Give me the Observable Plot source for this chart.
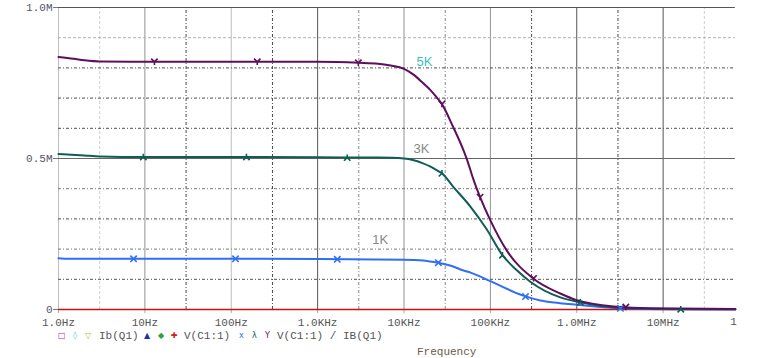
<!DOCTYPE html>
<html><head><meta charset="utf-8">
<script src="https://cdn.jsdelivr.net/npm/d3@7"></script>
<script src="https://cdn.jsdelivr.net/npm/@observablehq/plot@0.6"></script>
<style>
body{margin:0;background:#fff;}
#wrap{position:relative;width:781px;height:358px;font-family:"Liberation Mono",monospace;overflow:hidden;}
#legend{position:absolute;left:0;top:329px;height:14px;width:781px;font-size:11px;color:#555;}
#legend span{position:absolute;top:0;line-height:14px;white-space:pre;}
#legend span.sym{font-family:"DejaVu Sans",sans-serif;font-size:8px;}
#xlabel{position:absolute;left:417px;top:345px;font-size:11px;color:#6a5a48;line-height:14px;}
</style></head>
<body><div id="wrap"><div id="chart"></div><div id="legend"></div><div id="xlabel">Frequency</div></div>
<script>
// ---- data (values in M) ----
const freq5K = [1, 1.5, 2, 3, 10, 100, 1000, 3000, 5000, 7000, 10000, 13000, 16600, 20000, 23000, 27500, 37000, 49000, 54000, 63000, 76000, 100000, 155000, 316000, 645000, 1000000, 3000000, 7000000, 68600000];
const val5K  = [0.836, 0.830, 0.825, 0.821, 0.820, 0.820, 0.820, 0.817, 0.814, 0.808, 0.797, 0.777, 0.750, 0.728, 0.708, 0.680, 0.605, 0.526, 0.494, 0.434, 0.372, 0.295, 0.195, 0.102, 0.053, 0.031, 0.009, 0.004, 0.0015];
const freq3K = [1, 2, 3, 10, 100, 1000, 5000, 10000, 13000, 16600, 20000, 23000, 27500, 37000, 59000, 91000, 138000, 204000, 290000, 645000, 1100000, 2900000, 10000000, 68600000];
const val3K  = [0.515, 0.510, 0.507, 0.505, 0.505, 0.504, 0.503, 0.500, 0.494, 0.484, 0.474, 0.464, 0.451, 0.407, 0.340, 0.265, 0.180, 0.129, 0.092, 0.040, 0.024, 0.006, 0.002, 0.001];
const freq1K = [1, 1.3, 10, 100, 1000, 10000, 13000, 16600, 20000, 25000, 35000, 49000, 59000, 100000, 240000, 380000, 645000, 1000000, 3000000, 10000000, 68600000];
const val1K  = [0.170, 0.168, 0.168, 0.168, 0.167, 0.165, 0.164, 0.162, 0.159, 0.155, 0.145, 0.129, 0.122, 0.094, 0.046, 0.030, 0.021, 0.016, 0.005, 0.001, 0.000];
const freqIb = [1, 68600000];
const valIb  = [0, 0];

const mk5KFreq = [12.9, 200, 2960, 27500, 76000, 316000, 3700000];
const mk5KVal  = [0.820, 0.820, 0.817, 0.680, 0.372, 0.103, 0.008];
const mk3KFreq = [9.6, 150, 2200, 27500, 138000, 1100000, 16000000];
const mk3KVal  = [0.505, 0.505, 0.503, 0.451, 0.180, 0.024, 0.001];
const mk1KFreq = [7.4, 112, 1690, 25000, 255000, 3200000];
const mk1KVal  = [0.168, 0.168, 0.166, 0.155, 0.043, 0.004];

const labelText = ["5K", "3K", "1K"];
const labelFreq = [17300, 15900, 5300];
const labelVal  = [0.821, 0.533, 0.232];

const xTickValues = [1, 10, 100, 1e3, 1e4, 1e5, 1e6, 1e7];
const xTickLabels = ["1.0Hz", "10Hz", "100Hz", "1.0KHz", "10KHz", "100KHz", "1.0MHz", "10MHz"];
const xEdgeTick = [1e8];
const xEdgeLabel = ["1"];
const yTickValues = [0, 0.5, 1.0];
const yTickLabels = ["0", "0.5M", "1.0M"];

const gridDecLight = [1, 100];
const gridDecMid = [10, 1e4, 1e5];
const gridDecDark = [1e3, 1e6, 1e7];
const gridMinLight = [3, 3e7];
const gridMinMid = [3e3, 3e4];
const gridMinDark = [30, 300, 3e5, 3e6];
const gridYLight = [0.9];
const gridYMid = [0.4, 0.2];
const gridYDark = [0.8, 0.7, 0.6, 0.3, 0.1];
const gridYSolid = [0.5];
const gridYTop = [1.0];
const xEnd = 68600000;

const legendItems = [
  {t:"□", c:"#c020c0", x:58, s:1}, {t:"◊", c:"#40c8c8", x:73, s:1}, {t:"▽", c:"#a0c800", x:85, s:1},
  {t:"Ib(Q1)", c:"#555", x:99},
  {t:"▲", c:"#2030a0", x:144, s:1}, {t:"◆", c:"#30a040", x:158, s:1}, {t:"✚", c:"#d02020", x:171, s:1},
  {t:"V(C1:1)", c:"#555", x:184},
  {t:"x", c:"#3070f0", x:239, s:1}, {t:"λ", c:"#0e5e56", x:252, s:1}, {t:"Y", c:"#5d0f5d", x:265, s:1},
  {t:"V(C1:1) / IB(Q1)", c:"#555", x:277}
];

// ---- build table rows ----
const rows = (f, v) => f.map((d, i) => ({f: d, v: v[i]}));
const d5K = rows(freq5K, val5K), d3K = rows(freq3K, val3K), d1K = rows(freq1K, val1K), dIb = rows(freqIb, valIb);
const m5K = rows(mk5KFreq, mk5KVal), m3K = rows(mk3KFreq, mk3KVal), m1K = rows(mk1KFreq, mk1KVal);
const labels = labelText.map((t, i) => ({t, f: labelFreq[i], v: labelVal[i]}));

const symY = {draw(ctx, size){const r = Math.sqrt(size/Math.PI); ctx.moveTo(-r,-r); ctx.lineTo(0,0); ctx.lineTo(r,-r); ctx.moveTo(0,0); ctx.lineTo(0,r);}};
const symL = {draw(ctx, size){const r = Math.sqrt(size/Math.PI); ctx.moveTo(-r,r); ctx.lineTo(0,0); ctx.lineTo(r,r); ctx.moveTo(0,0); ctx.lineTo(0,-r);}};

const vRule = (arr, color, dash) => Plot.ruleX(arr, {x: d => d, y1: 0, y2: 1, stroke: color, strokeWidth: 1, strokeDasharray: dash});
const hRule = (arr, color, dash) => Plot.ruleY(arr, {y: d => d, x1: 1, x2: xEnd, stroke: color, strokeWidth: 1, strokeDasharray: dash});

const chart = Plot.plot({
  width: 781,
  height: 330,
  marginTop: 7,
  marginBottom: 21,
  marginLeft: 58,
  x: {type: "log", domain: [1, 1e8], range: [58, 749]},
  y: {domain: [0, 1], range: [309, 7]},
  style: {fontFamily: "Liberation Mono, monospace", fontSize: "11px", background: "#fff", color: "#555"},
  marks: [
    vRule(gridDecLight, "#bdbdbd"),
    vRule(gridDecMid, "#939393"),
    vRule(gridDecDark, "#555"),
    vRule(gridMinLight, "#cfcfcf", "3,2"),
    vRule(gridMinMid, "#8a8a8a", "3,2,1,2"),
    vRule(gridMinDark, "#4a4a4a", "3,2,1,2"),
    hRule(gridYLight, "#b0b0b0", "3,2"),
    hRule(gridYMid, "#7a7a7a", "3,2,1,2"),
    hRule(gridYDark, "#505050", "3,2,1,2"),
    hRule(gridYSolid, "#666"),
    hRule(gridYTop, "#555"),
    Plot.axisX({ticks: xTickValues, tickFormat: d => xTickLabels[xTickValues.indexOf(d)], tickSize: 4, tickPadding: 5, stroke: "#aaa", fill: "#555", label: null}),
    Plot.text(xEdgeTick, {x: d => d, text: (d, i) => xEdgeLabel[i], frameAnchor: "bottom", dy: 15, dx: -16, fill: "#555"}),
    Plot.axisY({ticks: yTickValues, tickFormat: d => yTickLabels[yTickValues.indexOf(d)], tickSize: 5, tickPadding: 1, stroke: "#777", fill: "#556", label: null}),
    Plot.line(dIb, {x: "f", y: "v", stroke: "#d01010", strokeWidth: 1.5}),
    Plot.line(d1K, {x: "f", y: "v", stroke: "#2f6ff5", strokeWidth: 2, curve: "monotone-x"}),
    Plot.line(d3K, {x: "f", y: "v", stroke: "#0e5e56", strokeWidth: 2, curve: "monotone-x"}),
    Plot.line(d5K, {x: "f", y: "v", stroke: "#5d0f5d", strokeWidth: 2, curve: "monotone-x"}),
    Plot.dot(m1K, {x: "f", y: "v", symbol: "times", r: 3, stroke: "#2f6ff5", strokeWidth: 1.6}),
    Plot.dot(m3K, {x: "f", y: "v", symbol: symL, r: 3.2, stroke: "#0e5e56", strokeWidth: 1.6, fill: "none"}),
    Plot.dot(m5K, {x: "f", y: "v", symbol: symY, r: 3.2, stroke: "#5d0f5d", strokeWidth: 1.6, fill: "none"}),
    Plot.text(labels.slice(0, 1), {x: "f", y: "v", text: "t", fill: "#3bbfbf", fontFamily: "Liberation Sans, sans-serif", fontSize: 13}),
    Plot.text(labels.slice(1), {x: "f", y: "v", text: "t", fill: "#888", fontFamily: "Liberation Sans, sans-serif", fontSize: 13})
  ]
});
document.getElementById("chart").appendChild(chart);

const leg = document.getElementById("legend");
legendItems.forEach(it => {
  const s = document.createElement("span");
  s.textContent = it.t;
  s.style.left = it.x + "px";
  s.style.color = it.c;
  if (it.s) s.className = "sym";
  leg.appendChild(s);
});
</script>
</body></html>
